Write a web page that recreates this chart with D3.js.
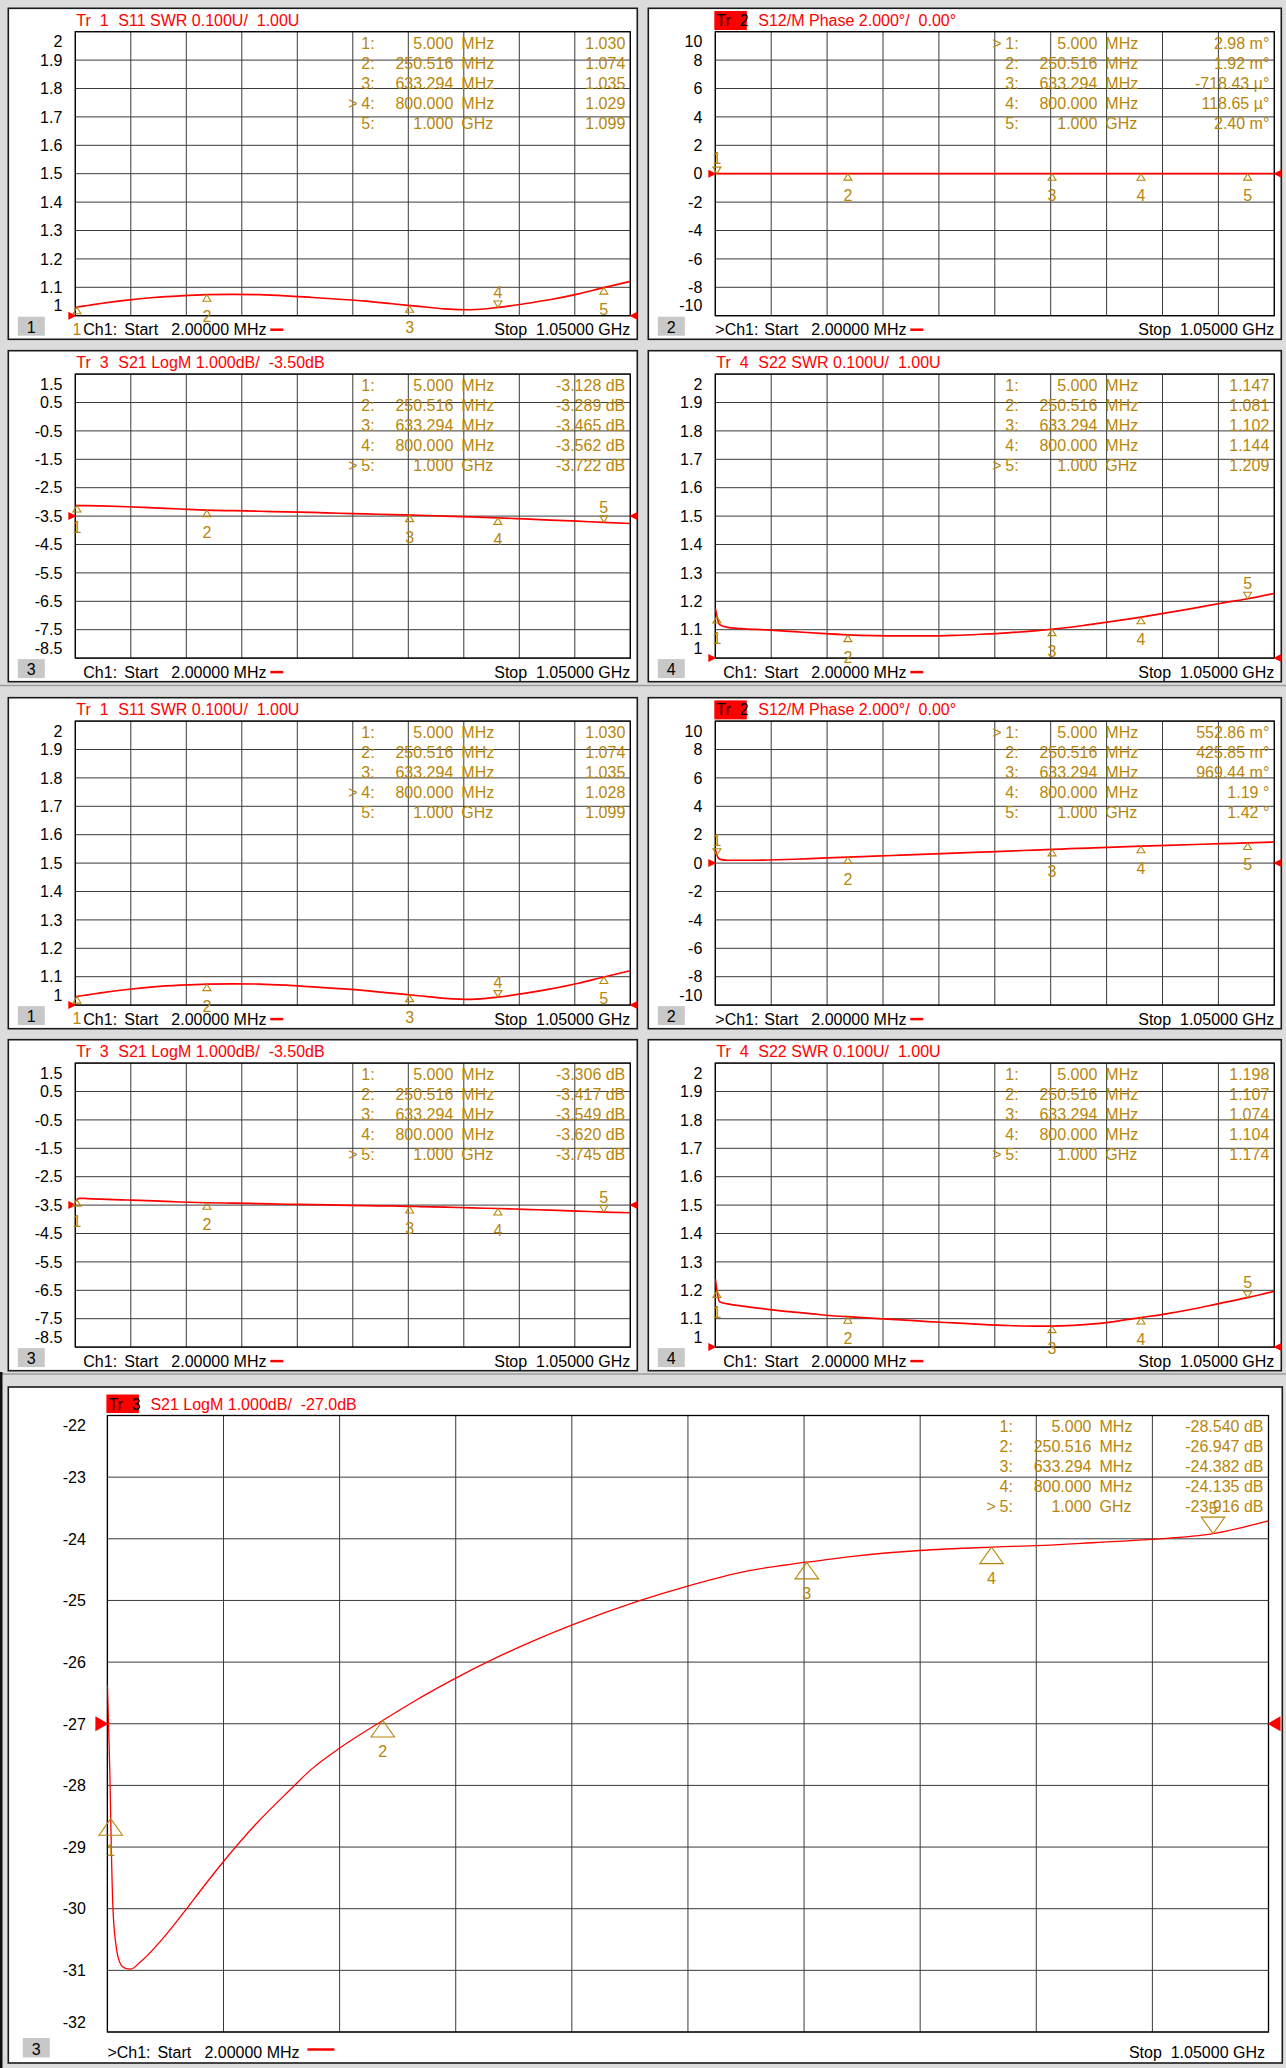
<!DOCTYPE html>
<html>
<head>
<meta charset="utf-8">
<script src="https://cdn.jsdelivr.net/npm/d3@7/dist/d3.min.js"></script>
<style>
  body { margin: 0; background: #dcdcdc; }
  svg { display: block; font-family: "Liberation Sans", Arial, sans-serif; font-size: 16px; }
  text { white-space: pre; }
</style>
</head>
<body>
<svg id="chart" width="1286" height="2068"></svg>
<script>
// sweep: start / stop in MHz
const sweep = [2, 1050];

// frequency samples (MHz) used for the small traces
const freqs = [2, 5, 10, 25, 50, 100, 150, 200, 250, 300, 350, 400, 450, 500,
  550, 600, 650, 700, 750, 800, 850, 900, 950, 1000, 1050];

// traces
const s11A = [1.027, 1.030, 1.032, 1.036, 1.043, 1.055, 1.064, 1.070, 1.074, 1.075, 1.074, 1.070, 1.064, 1.058,
  1.051, 1.042, 1.033, 1.024, 1.021, 1.029, 1.042, 1.057, 1.076, 1.099, 1.121];
const s12A = [0.004, 0.003, 0.003, 0.003, 0.003, 0.002, 0.002, 0.002, 0.002, 0.001, 0.001, 0.000, 0.000, -0.001,
  -0.001, -0.001, -0.001, 0.000, 0.000, 0.000, 0.001, 0.001, 0.002, 0.002, 0.003];
const s21A = [-3.10, -3.128, -3.13, -3.13, -3.14, -3.17, -3.21, -3.25, -3.289, -3.31, -3.33, -3.35, -3.37, -3.40,
  -3.42, -3.45, -3.47, -3.50, -3.53, -3.562, -3.60, -3.64, -3.68, -3.722, -3.76];
const s22A = [1.175, 1.147, 1.118, 1.108, 1.104, 1.099, 1.093, 1.087, 1.082, 1.079, 1.078, 1.078, 1.080, 1.084,
  1.089, 1.096, 1.105, 1.117, 1.130, 1.144, 1.160, 1.176, 1.193, 1.209, 1.228];

const s11B = [1.024, 1.030, 1.032, 1.036, 1.043, 1.055, 1.064, 1.070, 1.074, 1.075, 1.074, 1.070, 1.064, 1.058,
  1.051, 1.042, 1.033, 1.024, 1.020, 1.028, 1.041, 1.057, 1.076, 1.099, 1.121];
const s12B = [0.95, 0.553, 0.28, 0.20, 0.20, 0.22, 0.27, 0.35, 0.426, 0.49, 0.56, 0.63, 0.70, 0.77,
  0.84, 0.92, 0.99, 1.06, 1.12, 1.19, 1.25, 1.31, 1.37, 1.42, 1.49];
const s21B = [-3.38, -3.306, -3.26, -3.27, -3.29, -3.32, -3.35, -3.39, -3.417, -3.43, -3.45, -3.47, -3.48, -3.50,
  -3.52, -3.53, -3.55, -3.57, -3.60, -3.62, -3.65, -3.68, -3.71, -3.745, -3.77];
const s22B = [1.24, 1.198, 1.16, 1.152, 1.145, 1.133, 1.123, 1.114, 1.107, 1.101, 1.096, 1.090, 1.085, 1.080,
  1.076, 1.074, 1.075, 1.080, 1.090, 1.104, 1.118, 1.135, 1.155, 1.174, 1.196];

// big S21 trace
const bigFreqs = [2, 3, 4.2, 5, 6.9, 9.8, 13.6, 17.3, 23, 32, 55, 74, 88, 107, 137, 167, 186, 212, 250.5,
  279, 316, 354, 421, 481, 525, 580, 633, 677, 735, 800, 840, 894, 944, 1000, 1050];
const bigS21 = [-26.37, -27.0, -27.78, -28.54, -29.95, -30.60, -30.89, -30.96, -30.98, -30.86, -30.42, -29.99,
  -29.66, -29.23, -28.61, -28.07, -27.74, -27.39, -26.947, -26.634, -26.264, -25.92, -25.40, -25.01, -24.77,
  -24.52, -24.38, -24.28, -24.19, -24.135, -24.11, -24.06, -24.01, -23.916, -23.71];

// y-axis tick labels (top to bottom)
const swrTicks = [2, 1.9, 1.8, 1.7, 1.6, 1.5, 1.4, 1.3, 1.2, 1.1, 1];
const phaseTicks = [10, 8, 6, 4, 2, 0, -2, -4, -6, -8, -10];
const s21Ticks = [1.5, 0.5, -0.5, -1.5, -2.5, -3.5, -4.5, -5.5, -6.5, -7.5, -8.5];
const bigTicks = [-22, -23, -24, -25, -26, -27, -28, -29, -30, -31, -32];

// markers
const markerFreqs = [5, 250.516, 633.294, 800, 1000];
const markerFreqText = ["5.000", "250.516", "633.294", "800.000", "1.000"];
const markerUnits = ["MHz", "MHz", "MHz", "MHz", "GHz"];

const s11AMk = [1.030, 1.074, 1.035, 1.029, 1.099];
const s12AMk = [0.00298, 0.00192, -0.00072, 0.00012, 0.0024];
const s21AMk = [-3.128, -3.289, -3.465, -3.562, -3.722];
const s22AMk = [1.147, 1.081, 1.102, 1.144, 1.209];
const s11BMk = [1.030, 1.074, 1.035, 1.028, 1.099];
const s12BMk = [0.55286, 0.42585, 0.96944, 1.19, 1.42];
const s21BMk = [-3.306, -3.417, -3.549, -3.620, -3.745];
const s22BMk = [1.198, 1.107, 1.074, 1.104, 1.174];
const bigMk = [-28.540, -26.947, -24.382, -24.135, -23.916];

const s11AText = ["1.030", "1.074", "1.035", "1.029", "1.099"];
const s12AText = ["2.98 m°", "1.92 m°", "-718.43 µ°", "118.65 µ°", "2.40 m°"];
const s21AText = ["-3.128 dB", "-3.289 dB", "-3.465 dB", "-3.562 dB", "-3.722 dB"];
const s22AText = ["1.147", "1.081", "1.102", "1.144", "1.209"];
const s11BText = ["1.030", "1.074", "1.035", "1.028", "1.099"];
const s12BText = ["552.86 m°", "425.85 m°", "969.44 m°", "1.19 °", "1.42 °"];
const s21BText = ["-3.306 dB", "-3.417 dB", "-3.549 dB", "-3.620 dB", "-3.745 dB"];
const s22BText = ["1.198", "1.107", "1.074", "1.104", "1.174"];
const bigText = ["-28.540 dB", "-26.947 dB", "-24.382 dB", "-24.135 dB", "-23.916 dB"];

const RED = "#ff0000", MK = "#b8860b";

const panels = [
  { col: 0, row: 0, tr: "Tr  1", title: "S11 SWR 0.100U/  1.00U", hl: false, ticks: swrTicks, ref: 1, f: freqs, tr_v: s11A, mk: s11AMk, mt: s11AText, active: 3, chan: "Ch1:", num: "1" },
  { col: 1, row: 0, tr: "Tr  2", title: "S12/M Phase 2.000°/  0.00°", hl: true, ticks: phaseTicks, ref: 0, f: freqs, tr_v: s12A, mk: s12AMk, mt: s12AText, active: 0, chan: ">Ch1:", num: "2" },
  { col: 0, row: 1, tr: "Tr  3", title: "S21 LogM 1.000dB/  -3.50dB", hl: false, ticks: s21Ticks, ref: -3.5, f: freqs, tr_v: s21A, mk: s21AMk, mt: s21AText, active: 4, chan: "Ch1:", num: "3" },
  { col: 1, row: 1, tr: "Tr  4", title: "S22 SWR 0.100U/  1.00U", hl: false, ticks: swrTicks, ref: 1, f: freqs, tr_v: s22A, mk: s22AMk, mt: s22AText, active: 4, chan: "Ch1:", num: "4" },
  { col: 0, row: 2, tr: "Tr  1", title: "S11 SWR 0.100U/  1.00U", hl: false, ticks: swrTicks, ref: 1, f: freqs, tr_v: s11B, mk: s11BMk, mt: s11BText, active: 3, chan: "Ch1:", num: "1" },
  { col: 1, row: 2, tr: "Tr  2", title: "S12/M Phase 2.000°/  0.00°", hl: true, ticks: phaseTicks, ref: 0, f: freqs, tr_v: s12B, mk: s12BMk, mt: s12BText, active: 0, chan: ">Ch1:", num: "2" },
  { col: 0, row: 3, tr: "Tr  3", title: "S21 LogM 1.000dB/  -3.50dB", hl: false, ticks: s21Ticks, ref: -3.5, f: freqs, tr_v: s21B, mk: s21BMk, mt: s21BText, active: 4, chan: "Ch1:", num: "3" },
  { col: 1, row: 3, tr: "Tr  4", title: "S22 SWR 0.100U/  1.00U", hl: false, ticks: swrTicks, ref: 1, f: freqs, tr_v: s22B, mk: s22BMk, mt: s22BText, active: 4, chan: "Ch1:", num: "4" }
];
const bigPanel = { tr: "Tr  3", title: "S21 LogM 1.000dB/  -27.0dB", hl: true, ticks: bigTicks, ref: -27, f: bigFreqs, tr_v: bigS21, mk: bigMk, mt: bigText, active: 4, chan: ">Ch1:", num: "3" };

const colX = [8.3, 648.3], colW = [629, 633];
const rowY = [8.3, 350.7, 697.7, 1039.7];

const small = { triW: 8, triH: 6.5, below: 27.5, above: -9.5, refW: 7, refH: 4, lw: 1.7, labGap: 13, footY: 19.5,
  box: [9.5, 1, 27, 19], dash: [195, 208, 14], start: 49, startVal: 96 };
const large = { triW: 23.5, triH: 16.5, below: 37, above: -20, refW: 12, refH: 7.5, lw: 1.3, labGap: 21.5, footY: 25.5,
  box: [14.5, 6, 27, 19.5], dash: [200, 227, 17.5], start: 50, startVal: 97 };

const svg = d3.select("#chart");
svg.append("rect").attr("width", 1286).attr("height", 2068).attr("fill", "#dcdcdc");
// block separators
[685.5, 1374].forEach(yy => {
  svg.append("line").attr("x1", 0).attr("x2", 1286).attr("y1", yy).attr("y2", yy)
    .attr("stroke", "#9c9c9c").attr("stroke-width", 1.5);
});
svg.append("rect").attr("x", 0).attr("y", 1372).attr("width", 2.5).attr("height", 696).attr("fill", "#111");

const tri = (x, y, w, h, down) => down
  ? `M${x},${y}L${x - w / 2},${y - h}L${x + w / 2},${y - h}Z`
  : `M${x},${y}L${x - w / 2},${y + h}L${x + w / 2},${y + h}Z`;

function drawPanel(p, geo, idx) {
  const S = geo.big ? large : small;
  const g = svg.append("g");

  g.append("rect").attr("x", geo.fx).attr("y", geo.fy).attr("width", geo.fw).attr("height", geo.fh)
    .attr("fill", "#fff").attr("stroke", "#1a1a1a").attr("stroke-width", 1.6);

  const x = d3.scaleLinear().domain(sweep).range([geo.left, geo.right]);
  const y = d3.scaleLinear().domain([p.ticks[p.ticks.length - 1], p.ticks[0]]).range([geo.bottom, geo.top]);

  // grid
  const xGrid = d3.range(11).map(i => sweep[0] + i * (sweep[1] - sweep[0]) / 10);
  g.append("g").selectAll("line").data(xGrid).join("line")
    .attr("x1", d => x(d)).attr("x2", d => x(d)).attr("y1", geo.top).attr("y2", geo.bottom)
    .attr("stroke", "#3a3a3a").attr("stroke-width", 1);
  g.append("g").selectAll("line").data(p.ticks).join("line")
    .attr("x1", geo.left).attr("x2", geo.right).attr("y1", d => y(d)).attr("y2", d => y(d))
    .attr("stroke", "#3a3a3a").attr("stroke-width", 1);
  g.append("rect").attr("x", geo.left).attr("y", geo.top)
    .attr("width", geo.right - geo.left).attr("height", geo.bottom - geo.top)
    .attr("fill", "none").attr("stroke", "#000").attr("stroke-width", 1.3);

  // y labels
  g.append("g").selectAll("text").data(p.ticks).join("text")
    .attr("x", geo.left - S.labGap)
    .attr("y", (d, i) => i === 0 ? geo.top + 10 : i === p.ticks.length - 1 ? geo.bottom - 10 : y(d))
    .attr("dy", "0.36em").attr("text-anchor", "end").attr("fill", "#000")
    .text(d => String(d));

  // title
  if (p.hl) {
    g.append("rect").attr("x", geo.left - 1).attr("y", geo.top - (geo.big ? 21 : 20.7))
      .attr("width", 32.5).attr("height", geo.big ? 18.5 : 19).attr("fill", RED);
  }
  g.append("text").attr("x", geo.left + 1).attr("y", geo.top - 6)
    .attr("fill", p.hl ? "#000" : RED).text(p.tr);
  g.append("text").attr("x", geo.left + 43).attr("y", geo.top - 6)
    .attr("fill", RED).text(p.title);

  // marker table
  const rows = g.append("g").attr("fill", MK);
  markerFreqs.forEach((mf, i) => {
    const by = geo.top + 16.8 + i * 20;
    if (i === p.active) rows.append("text").attr("x", geo.right - 282).attr("y", by).text(">");
    rows.append("text").attr("x", geo.right - 269).attr("y", by).text((i + 1) + ":");
    rows.append("text").attr("x", geo.right - 177).attr("y", by).attr("text-anchor", "end").text(markerFreqText[i]);
    rows.append("text").attr("x", geo.right - 169).attr("y", by).text(markerUnits[i]);
    rows.append("text").attr("x", geo.right - 5).attr("y", by).attr("text-anchor", "end").text(p.mt[i]);
  });

  // trace
  const clipId = "clip" + idx;
  g.append("clipPath").attr("id", clipId).append("rect")
    .attr("x", geo.left).attr("y", geo.top).attr("width", geo.right - geo.left).attr("height", geo.bottom - geo.top);
  const line = d3.line().x(d => x(d[0])).y(d => y(d[1])).curve(d3.curveMonotoneX);
  g.append("path").datum(d3.zip(p.f, p.tr_v)).attr("clip-path", `url(#${clipId})`)
    .attr("d", line).attr("fill", "none").attr("stroke", RED).attr("stroke-width", S.lw);

  // reference level arrows
  const ry = y(p.ref);
  g.append("path").attr("d", `M${geo.left + 1},${ry}L${geo.left - S.refW},${ry - S.refH}L${geo.left - S.refW},${ry + S.refH}Z`).attr("fill", RED);
  g.append("path").attr("d", `M${geo.right - 1},${ry}L${geo.right + S.refW},${ry - S.refH}L${geo.right + S.refW},${ry + S.refH}Z`).attr("fill", RED);

  // markers
  const mg = g.append("g");
  markerFreqs.forEach((mf, i) => {
    const mx = x(mf), my = y(p.mk[i]);
    const down = i === p.active;
    mg.append("path").attr("d", tri(mx, my, S.triW, S.triH, down))
      .attr("fill", "none").attr("stroke", MK).attr("stroke-width", 1.1);
    mg.append("text").attr("x", mx).attr("y", my + (down ? S.above : S.below))
      .attr("text-anchor", "middle").attr("fill", MK).text(i + 1);
  });

  // footer
  const fy = geo.bottom + S.footY;
  g.append("rect").attr("x", geo.fx + S.box[0]).attr("y", geo.bottom + S.box[1])
    .attr("width", S.box[2]).attr("height", S.box[3]).attr("fill", "#c8c8c8");
  g.append("text").attr("x", geo.fx + S.box[0] + S.box[2] / 2).attr("y", geo.bottom + S.box[1] + S.box[3] - 3)
    .attr("text-anchor", "middle").attr("fill", "#000").text(p.num);
  const cx = p.chan.startsWith(">") ? geo.left : geo.left + 8;
  g.append("text").attr("x", cx).attr("y", fy).attr("fill", "#000").text(p.chan);
  g.append("text").attr("x", geo.left + S.start).attr("y", fy).attr("fill", "#000").text("Start");
  g.append("text").attr("x", geo.left + S.startVal).attr("y", fy).attr("fill", "#000").text("2.00000 MHz");
  g.append("line").attr("x1", geo.left + S.dash[0]).attr("x2", geo.left + S.dash[1])
    .attr("y1", geo.bottom + S.dash[2]).attr("y2", geo.bottom + S.dash[2])
    .attr("stroke", RED).attr("stroke-width", 2.5);
  g.append("text").attr("x", geo.right - (geo.big ? 3.5 : 0)).attr("y", fy).attr("text-anchor", "end")
    .attr("fill", "#000").text("Stop  1.05000 GHz");
}

panels.forEach((p, i) => {
  const fx = colX[p.col], fy = rowY[p.row], fw = colW[p.col];
  drawPanel(p, { fx, fy, fw, fh: 331, left: fx + 67, right: fx + fw - 7, top: fy + 23.4, bottom: fy + 23.4 + 284, big: false }, i);
});
drawPanel(bigPanel, { fx: 8.3, fy: 1387, fw: 1274, fh: 676, left: 107.4, right: 1268.5, top: 1415.5, bottom: 2032, big: true }, 8);
</script>
</body>
</html>
